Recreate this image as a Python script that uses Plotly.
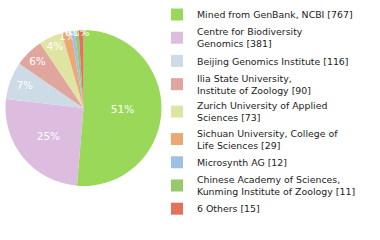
import numpy as np
import plotly.graph_objects as go

labels = [
    "Mined from GenBank, NCBI [767]",
    "Centre for Biodiversity<br>Genomics [381]",
    "Beijing Genomics Institute [116]",
    "Ilia State University,<br>Institute of Zoology [90]",
    "Zurich University of Applied<br>Sciences [73]",
    "Sichuan University, College of<br>Life Sciences [29]",
    "Microsynth AG [12]",
    "Chinese Academy of Sciences,<br>Kunming Institute of Zoology [11]",
    "6 Others [15]",
]
values = [767, 381, 116, 90, 73, 29, 12, 11, 15]
colors = ["#9ad85a", "#dcbcdf", "#cddbe6", "#e0a59c", "#e0e4a2",
          "#eca874", "#9ec0e2", "#94c96c", "#e0735c"]

vals = np.array(values, dtype=float)
pct_text = [f"{int(np.floor(v / vals.sum() * 100))}%" for v in vals]

fig = go.Figure(go.Pie(
    labels=labels,
    values=values,
    text=pct_text,
    textinfo="text",
    textposition="inside",
    insidetextorientation="horizontal",
    textfont=dict(color="white", size=11, family="DejaVu Sans"),
    marker=dict(colors=colors, line=dict(width=0)),
    sort=False,
    direction="clockwise",
    rotation=0,
    domain=dict(x=[5 / 380, 162 / 380], y=[54 / 240, 210 / 240]),
    hoverinfo="none",
))

fig.update_layout(
    width=380, height=240,
    margin=dict(l=0, r=0, t=0, b=0),
    paper_bgcolor="white",
    plot_bgcolor="white",
    showlegend=True,
    uniformtext=dict(minsize=8, mode="show"),
    legend=dict(
        x=157 / 380, y=1.0, xanchor="left", yanchor="top",
        font=dict(family="DejaVu Sans", size=9.4, color="#222"),
        tracegroupgap=0, itemwidth=30,
        bgcolor="rgba(0,0,0,0)",
    ),
)

fig.write_html("out.html")
